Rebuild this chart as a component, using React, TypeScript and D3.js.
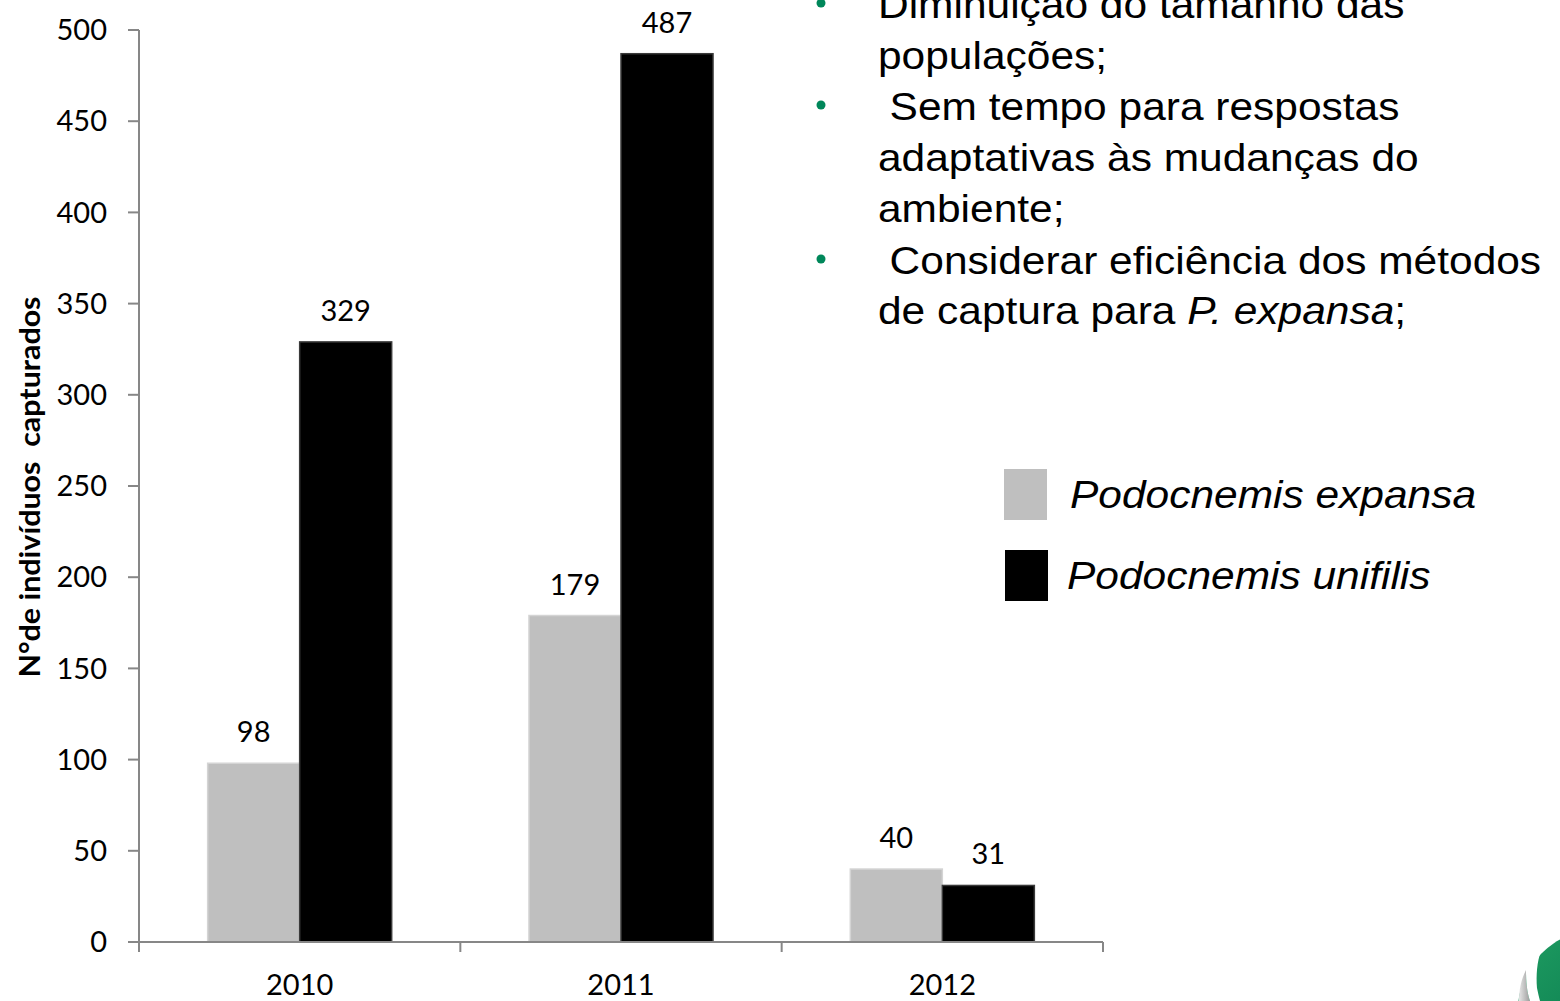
import React from "react";
import * as d3 from "d3";

const categories = ["2010", "2011", "2012"];
const seriesNames = ["Podocnemis expansa", "Podocnemis unifilis"];
const expansa = [98, 179, 40];
const unifilis = [329, 487, 31];
const yTicks = [0, 50, 100, 150, 200, 250, 300, 350, 400, 450, 500];
const yTitle = "N°de indivíduos  capturados";

const W = 1560;
const H = 1001;
const AX_L = 139;
const AX_R = 1103;
const Y0 = 942;
const Y500 = 30;
const colors = ["#BFBFBF", "#000000"];
const strokes = ["#D4D4D4", "#3a3a3a"];
const axisColor = "#878787";
const green = "#00875A";

export default function App() {
  const y = d3.scaleLinear().domain([0, 500]).range([Y0, Y500]);
  const x = d3.scaleBand<string>().domain(categories).range([AX_L, AX_R]).padding(0);
  const x1 = d3
    .scaleBand<string>()
    .domain(seriesNames)
    .range([0, x.bandwidth()])
    .paddingInner(0)
    .paddingOuter(0.746);
  const values = [expansa, unifilis];
  const boundaries = [...categories.map((c) => x(c) as number), AX_R];

  const tickFont = "Lato, 'Open Sans', sans-serif";
  const arial = "'Liberation Sans', Arial, sans-serif";
  const fs = 39;
  const sx = (1.18 * 36) / fs;
  const ind = 11.6 / sx;

  const lines: { text: React.ReactNode; base: number; indent: number }[] = [
    { text: "Diminuição do tamanho das", base: 18, indent: 0 },
    { text: "populações;", base: 69, indent: 0 },
    { text: "Sem tempo para respostas", base: 120, indent: ind },
    { text: "adaptativas às mudanças do", base: 171, indent: 0 },
    { text: "ambiente;", base: 222, indent: 0 },
    { text: "Considerar eficiência dos métodos", base: 274, indent: ind },
    {
      text: (
        <>
          de captura para <tspan fontStyle="italic">P. expansa</tspan>;
        </>
      ),
      base: 324,
      indent: 0,
    },
  ];
  const bulletBases = [18, 120, 274];

  return (
    <svg
      width={W}
      height={H}
      style={{ position: "absolute", left: 0, top: 0, background: "#fff" }}
    >
      {/* bars */}
      {categories.map((c, i) => (
        <g key={c} transform={`translate(${x(c)},0)`}>
          {seriesNames.map((s, k) => {
            const v = values[k][i];
            const bx = x1(s) as number;
            return (
              <g key={s}>
                <rect
                  x={bx}
                  y={y(v)}
                  width={x1.bandwidth()}
                  height={Y0 - y(v)}
                  fill={colors[k]}
                  stroke={strokes[k]}
                  strokeWidth={1.5}
                />
                <text
                  x={bx + x1.bandwidth() / 2}
                  y={y(v) - 21}
                  textAnchor="middle"
                  fontFamily={tickFont}
                  fontSize={29}
                  fill="#000"
                >
                  {v}
                </text>
              </g>
            );
          })}
        </g>
      ))}

      {/* y axis */}
      <line x1={AX_L} x2={AX_L} y1={Y500} y2={Y0} stroke={axisColor} strokeWidth={2} />
      {yTicks.map((t) => (
        <g key={t}>
          <line x1={AX_L - 11} x2={AX_L} y1={y(t)} y2={y(t)} stroke={axisColor} strokeWidth={2} />
          <text
            x={107}
            y={y(t)}
            dy="0.35em"
            textAnchor="end"
            fontFamily={tickFont}
            fontSize={29}
            fill="#000"
          >
            {t}
          </text>
        </g>
      ))}

      {/* x axis */}
      <line x1={AX_L} x2={AX_R} y1={Y0} y2={Y0} stroke={axisColor} strokeWidth={2} />
      {boundaries.map((b, i) => (
        <line key={i} x1={b} x2={b} y1={Y0} y2={Y0 + 10} stroke={axisColor} strokeWidth={2} />
      ))}
      {categories.map((c) => (
        <text
          key={c}
          x={(x(c) as number) + x.bandwidth() / 2}
          y={995}
          textAnchor="middle"
          fontFamily={tickFont}
          fontSize={29}
          fill="#000"
        >
          {c}
        </text>
      ))}

      {/* y title */}
      <text
        transform={`translate(40,487) rotate(-90)`}
        textAnchor="middle"
        fontFamily={tickFont}
        fontWeight="bold"
        fontSize={29}
        textLength={381}
        lengthAdjust="spacingAndGlyphs"
        fill="#000"
        style={{ whiteSpace: "pre" }}
      >
        {yTitle}
      </text>

      {/* bullet text */}
      {bulletBases.map((b) => (
        <circle key={b} cx={821} cy={b - 15} r={4.5} fill={green} />
      ))}
      <g transform={`translate(878,0) scale(${sx},1)`}>
        {lines.map((l, i) => (
          <text key={i} x={l.indent} y={l.base} fontFamily={arial} fontSize={fs} fill="#000">
            {l.text}
          </text>
        ))}
      </g>

      {/* legend */}
      <rect x={1004} y={469} width={43} height={51} fill={colors[0]} />
      <rect x={1005} y={550} width={43} height={51} fill={colors[1]} />
      <g transform={`translate(1070,508) scale(${sx},1)`}>
        <text x={0} y={0} fontFamily={arial} fontStyle="italic" fontSize={fs} fill="#000">
          {seriesNames[0]}
        </text>
      </g>
      <g transform={`translate(1067,589) scale(${sx},1)`}>
        <text x={0} y={0} fontFamily={arial} fontStyle="italic" fontSize={fs} fill="#000">
          {seriesNames[1]}
        </text>
      </g>

      {/* logo fragment */}
      <defs>
        <linearGradient id="gr" x1="0" x2="1" y1="0" y2="0">
          <stop offset="0" stopColor="#e6e6e6" />
          <stop offset="1" stopColor="#9c9c9c" />
        </linearGradient>
        <linearGradient id="gg" x1="0" x2="1" y1="0" y2="1">
          <stop offset="0" stopColor="#1f9d62" />
          <stop offset="1" stopColor="#006a44" />
        </linearGradient>
      </defs>
      <circle cx={1598} cy={1010} r={80} fill="url(#gg)" />
      <path d="M1519,1001 C1519,990 1521,980 1526,970 C1526,982 1527,992 1530,1001 Z" fill="url(#gr)" />
      <path d="M1530,1001 C1527,992 1526,982 1526,970 C1530,962 1535,956 1541,951 C1537,962 1536,975 1537,988 C1538,993 1539,997 1540,1001 Z" fill="#fff" />
    </svg>
  );
}
